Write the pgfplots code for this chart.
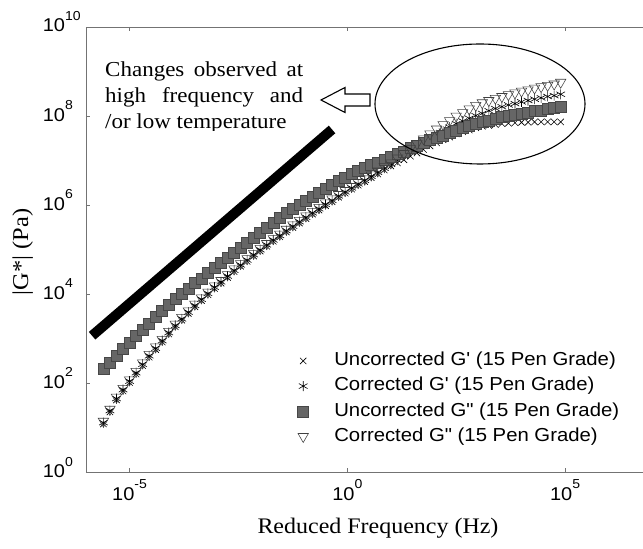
\documentclass[border=0pt]{standalone}
\usepackage{fontspec}
\setmainfont{Liberation Serif}[FakeStretch=1.08]
\newfontfamily\arialfont{Liberation Sans}[FakeStretch=1.08]
\usepackage{pgfplots}
\usepackage{pgfplotstable}
\pgfplotsset{compat=1.18}

% master curve, 15 Pen grade: log10 of reduced frequency and of |G*| for each series
% gpu = uncorrected G', gpc = corrected G', gppu = uncorrected G'', gppc = corrected G''
\pgfplotstableread{
lx gpu gpc gppu gppc
-5.60 1.09 1.12 2.32 1.15
-5.45 1.36 1.39 2.47 1.42
-5.30 1.63 1.66 2.62 1.69
-5.15 1.83 1.86 2.77 1.89
-5.00 2.02 2.05 2.92 2.08
-4.85 2.21 2.24 3.06 2.27
-4.70 2.40 2.43 3.21 2.46
-4.55 2.59 2.62 3.35 2.65
-4.40 2.76 2.79 3.49 2.82
-4.25 2.93 2.96 3.63 2.99
-4.10 3.11 3.14 3.76 3.17
-3.95 3.27 3.30 3.89 3.33
-3.80 3.42 3.45 4.01 3.48
-3.65 3.57 3.60 4.13 3.63
-3.50 3.72 3.75 4.25 3.78
-3.35 3.86 3.89 4.36 3.92
-3.20 3.99 4.02 4.48 4.05
-3.05 4.13 4.16 4.59 4.19
-2.90 4.25 4.28 4.70 4.31
-2.75 4.38 4.41 4.82 4.44
-2.60 4.51 4.54 4.93 4.57
-2.45 4.63 4.66 5.04 4.69
-2.30 4.74 4.77 5.15 4.80
-2.15 4.86 4.89 5.27 4.92
-2.00 4.97 5.00 5.38 5.03
-1.85 5.08 5.11 5.49 5.14
-1.70 5.19 5.22 5.60 5.25
-1.55 5.29 5.32 5.71 5.35
-1.40 5.40 5.43 5.82 5.46
-1.25 5.50 5.53 5.91 5.56
-1.10 5.60 5.63 6.01 5.66
-0.95 5.70 5.73 6.11 5.76
-0.80 5.80 5.83 6.20 5.86
-0.65 5.89 5.92 6.29 5.95
-0.50 5.99 6.02 6.38 6.05
-0.35 6.08 6.11 6.46 6.14
-0.20 6.18 6.21 6.54 6.24
-0.05 6.27 6.30 6.62 6.33
0.10 6.36 6.39 6.70 6.42
0.25 6.45 6.48 6.77 6.51
0.40 6.53 6.56 6.84 6.59
0.55 6.62 6.65 6.90 6.68
0.70 6.70 6.74 6.96 6.77
0.85 6.79 6.83 7.02 6.87
1.00 6.88 6.92 7.08 6.95
1.15 6.95 7.01 7.15 7.06
1.30 7.02 7.10 7.21 7.16
1.45 7.10 7.19 7.28 7.27
1.60 7.17 7.29 7.34 7.38
1.75 7.25 7.39 7.40 7.49
1.90 7.33 7.49 7.46 7.60
2.05 7.40 7.58 7.52 7.71
2.20 7.47 7.66 7.57 7.81
2.35 7.53 7.75 7.63 7.90
2.50 7.60 7.83 7.68 8.00
2.65 7.65 7.89 7.73 8.08
2.80 7.69 7.95 7.78 8.16
2.95 7.74 8.01 7.82 8.24
3.10 7.77 8.06 7.87 8.30
3.25 7.79 8.12 7.90 8.35
3.40 7.81 8.17 7.94 8.40
3.55 7.83 8.21 7.98 8.44
3.70 7.84 8.25 8.01 8.48
3.85 7.85 8.28 8.03 8.52
4.00 7.86 8.32 8.06 8.56
4.15 7.86 8.35 8.08 8.59
4.30 7.87 8.38 8.11 8.63
4.45 7.87 8.41 8.13 8.66
4.60 7.87 8.44 8.16 8.69
4.75 7.87 8.46 8.18 8.72
4.90 7.87 8.49 8.21 8.76
}\mastercurve

\newcommand{\tl}[1]{10\raisebox{0.62em}{\fontsize{13}{13}\selectfont #1}}
\newcommand{\sq}{\symbol{39}}
\newcommand{\dq}{\symbol{34}}

\begin{document}
\begin{tikzpicture}
% the page is this box; the axis runs on past its right edge, as in the original
\path[use as bounding box] (-86pt,-76.5pt) rectangle (557pt,472.5pt);
\begin{axis}[
    at={(0,0)}, anchor=south west,
    scale only axis, width=584pt, height=445.5pt,
    xmode=log, ymode=log,
    xmin=1e-6, xmax=2.57e7,
    ymin=1, ymax=1e10,
    xminorticks=false, yminorticks=false,
    xtick={1e-5,1,1e5},
    xticklabels={\tl{-5},\tl{0},\tl{5}},
    ytick={1,1e2,1e4,1e6,1e8,1e10},
    yticklabels={\tl{0},\tl{2},\tl{4},\tl{6},\tl{8},\tl{10}},
    tick align=inside,
    major tick length=4.5pt,
    axis line style={black!55, line width=0.8pt},
    every tick/.style={black!55, line width=0.8pt},
    xticklabel style={font=\arialfont\fontsize{18.5}{18.5}\selectfont, anchor=north, inner sep=0pt, yshift=-7pt},
    yticklabel style={font=\arialfont\fontsize{18.5}{18.5}\selectfont, anchor=base east, inner sep=0pt,
        text width=43pt, align=left, yshift=-5pt},
    xlabel={Reduced Frequency (Hz)},
    ylabel={|G*| (Pa)},
    xlabel style={font=\fontsize{22.2}{22.2}\selectfont, at={(axis description cs:0.5,-0.1358)}, anchor=base},
    ylabel style={font=\fontsize{22.6}{22.6}\selectfont, at={(axis description cs:-0.0993,0.495)}, anchor=base},
    legend cell align=left,
    legend style={draw=none, fill=none, inner sep=0pt,
        at={(axis description cs:0.3622,0.2705)}, anchor=north west,
        font=\arialfont\fontsize{18.8}{18.8}\selectfont,
        row sep=7.8pt, column sep=25.6pt,
        nodes={inner sep=0pt, text height=13.6pt, text depth=3.8pt}},
]
\addplot[black, line width=10pt, forget plot] coordinates {(1.38e-6,1175) (0.447,5.01e7)};

\addplot[only marks, mark=x, mark size=4.5pt, black, line width=0.6pt]
    table[x expr={10^(\thisrow{lx})}, y expr={10^(\thisrow{gpu})}] {\mastercurve};
\addlegendentry{Uncorrected G\sq{} (15 Pen Grade)}
\addplot[only marks, mark=asterisk, mark size=5pt, black, line width=0.6pt]
    table[x expr={10^(\thisrow{lx})}, y expr={10^(\thisrow{gpc})}] {\mastercurve};
\addlegendentry{Corrected G\sq{} (15 Pen Grade)}
\addplot[only marks, mark=square*, mark size=5.5pt, draw=black!72, fill=black!60, line width=0.5pt]
    table[x expr={10^(\thisrow{lx})}, y expr={10^(\thisrow{gppu})}] {\mastercurve};
\addlegendentry{Uncorrected G\dq{} (15 Pen Grade)}
\addplot[only marks, mark=triangle, mark size=6pt, mark options={rotate=180}, black!75, line width=0.55pt]
    table[x expr={10^(\thisrow{lx})}, y expr={10^(\thisrow{gppc})}] {\mastercurve};
\addlegendentry{Corrected G\dq{} (15 Pen Grade)}
\end{axis}

% annotation: text, hollow arrow and ellipse round the high-frequency end
\node[anchor=base west, inner sep=0pt, font=\fontsize{21.3}{21.3}\selectfont] at (19pt,395.5pt)
    {\makebox[198pt][s]{Changes observed at}};
\node[anchor=base west, inner sep=0pt, font=\fontsize{21.3}{21.3}\selectfont] at (19pt,369.5pt)
    {\makebox[198pt][s]{high frequency and}};
\begin{scope}
\clip (0pt,341.5pt) rectangle (300pt,380pt);
\node[anchor=base west, inner sep=0pt, font=\fontsize{21.3}{21.3}\selectfont] at (19pt,343.5pt)
    {/or low temperature};
\end{scope}
\draw[black, line width=1.1pt, fill=white] (235pt,372.5pt) -- ++(24pt,12.5pt) -- ++(0pt,-6.5pt) -- ++(25pt,0pt)
    -- ++(0pt,-12pt) -- ++(-25pt,0pt) -- ++(0pt,-6.5pt) -- cycle;
\draw[black, line width=1.1pt] (394pt,368.5pt) ellipse [x radius=105pt, y radius=60pt];
\end{tikzpicture}
\end{document}
